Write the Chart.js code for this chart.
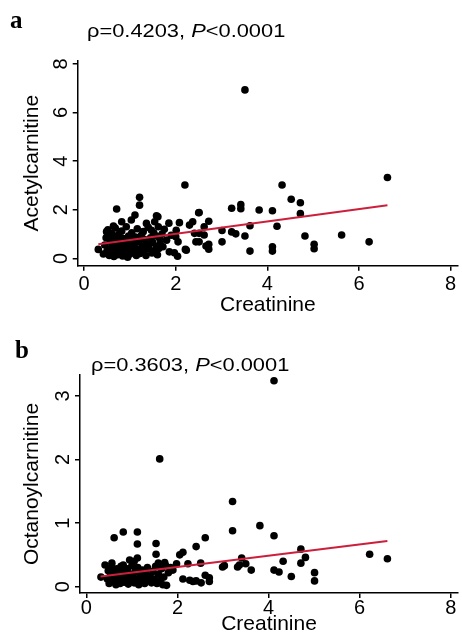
<!DOCTYPE html>
<html>
<head>
<meta charset="utf-8">
<script src="https://cdn.jsdelivr.net/npm/chart.js@4/dist/chart.umd.min.js"></script>
<style>
  html, body { margin: 0; padding: 0; background: #fff; }
  #chartA { position: absolute; left: 0; top: 0; }
  #chartB { position: absolute; left: 0; top: 318px; }
</style>
</head>
<body>
<canvas id="chartA" width="462" height="318"></canvas>
<canvas id="chartB" width="462" height="314"></canvas>
<script>
// panel a : creatinine vs acetylcarnitine
const creatinineA = [
  3.51, 6.62, 4.32, 4.52, 4.72, 4.72, 3.42, 3.42, 3.22, 3.82, 4.11, 2.51, 2.72, 2.62, 2.62, 2.51, 2.72, 2.72,
  3.01, 3.01, 3.22, 3.31, 3.62, 3.51, 3.62, 4.21, 4.11, 4.11, 4.82, 5.02, 5.02, 5.62, 6.22,
  2.20, 2.50, 2.37, 2.30, 2.08, 2.01, 2.00, 2.41, 2.51, 2.05, 2.44, 2.66, 2.21, 2.23, 1.97, 2.04, 1.86, 1.63,
  1.58, 1.65, 1.58, 1.61, 1.54,
  1.21, 1.21, 0.71, 1.11, 1.03, 0.82, 0.64, 0.49, 0.31, 1.36, 1.47, 1.29,
  0.42, 0.45, 0.48, 0.50, 0.52, 0.55, 0.57, 0.58, 0.60, 0.62, 0.63, 0.65, 0.66, 0.68, 0.70, 0.72, 0.73, 0.75,
  0.77, 0.78, 0.80, 0.82, 0.84, 0.85, 0.87, 0.88, 0.90, 0.92, 0.94, 0.95, 0.97, 0.98, 1.00, 1.02, 1.04, 1.05,
  1.08, 1.10, 1.12, 1.14, 1.16, 1.18, 1.20, 1.22, 1.25, 1.27, 1.30, 1.32, 1.35, 1.38, 1.40, 1.42, 1.45, 1.48,
  1.50, 1.52, 1.55, 1.57, 1.60, 1.62, 1.66, 1.70, 1.72, 1.75, 1.80, 1.85, 1.90
];
const acetylcarnitine = [
  6.93, 3.33, 3.02, 2.43, 2.29, 1.84, 2.21, 2.04, 2.06, 1.99, 1.96, 1.89, 1.53, 1.30, 0.96, 0.68, 0.58, 0.38,
  1.15, 0.68, 1.09, 1.01, 1.34, 0.92, 0.30, 1.32, 0.48, 0.30, 0.92, 0.58, 0.40, 0.96, 0.68,
  3.02, 1.88, 1.51, 1.37, 1.47, 1.16, 0.89, 1.03, 1.03, 0.68, 0.68, 0.51, 0.37, 0.34, 0.23, 0.09, 0.27, 0.41,
  0.48, 0.82, 1.75, 1.71, 1.51,
  2.51, 2.19, 2.03, 1.78, 1.58, 1.51, 1.33, 1.10, 0.37, 1.44, 1.16, 1.10,
  0.18, 0.55, 0.85, 0.30, 1.18, 0.12, 0.70, 0.42, 1.02, 0.22, 0.90, 0.08, 0.58, 1.25, 0.35, 0.75, 0.15, 0.98,
  0.48, 0.28, 0.62, 1.12, 0.10, 0.82, 0.40, 0.20, 0.68, 1.30, 0.52, 0.05, 0.92, 0.30, 0.18, 0.72, 1.05, 0.45,
  0.25, 0.60, 0.88, 0.12, 1.22, 0.38, 0.70, 0.20, 0.95, 0.50, 0.30, 0.78, 0.12, 0.58, 1.28, 0.40, 0.85, 0.22,
  0.65, 1.05, 0.32, 0.92, 0.15, 1.30, 0.60, 1.00, 0.48, 1.20, 0.75, 1.45, 0.95
];

// panel b : creatinine vs octanoylcarnitine
const creatinineB = [
  4.12, 1.61, 3.21, 3.21, 3.81, 4.12, 4.71, 4.81, 4.71, 4.32, 4.12, 4.23, 4.50, 5.01, 5.01, 3.62, 3.41, 3.36,
  3.50, 6.22, 6.61, 2.61, 2.41, 2.51, 2.61, 2.70, 2.70, 2.27, 2.41, 2.52, 2.99, 3.03, 3.32, 2.12, 2.05, 1.98,
  2.23, 2.12, 2.34, 1.53, 1.53, 1.58, 1.72, 1.12, 1.12, 1.12, 0.81, 0.61, 0.41, 0.56, 0.81, 0.32, 1.68, 1.76,
  0.46, 0.48, 0.50, 0.53, 0.55, 0.58, 0.60, 0.62, 0.65, 0.67, 0.70, 0.72, 0.74, 0.76, 0.78, 0.80, 0.83, 0.85,
  0.87, 0.90, 0.92, 0.95, 0.97, 1.00, 1.02, 1.05, 1.07, 1.10, 1.13, 1.15, 1.18, 1.20, 1.23, 1.26, 1.28, 1.31,
  1.34, 1.37, 1.40, 1.43, 1.46, 1.49, 1.52, 1.55, 1.58, 1.62, 1.65, 1.70, 1.74, 1.80, 1.85, 1.90, 0.95, 1.05
];
const octanoylcarnitine = [
  3.24, 2.01, 1.34, 0.88, 0.96, 0.80, 0.59, 0.46, 0.37, 0.40, 0.26, 0.23, 0.16, 0.22, 0.09, 0.26, 0.45, 0.34,
  0.36, 0.51, 0.44, 0.77, 0.63, 0.37, 0.18, 0.14, 0.08, 0.10, 0.09, 0.06, 0.31, 0.33, 0.31, 0.54, 0.50, 0.36,
  0.36, 0.12, 0.08, 0.68, 0.51, 0.37, 0.38, 0.86, 0.67, 0.45, 0.86, 0.77, 0.34, 0.37, 0.34, 0.15, 0.03, 0.02,
  0.12, 0.25, 0.05, 0.18, 0.30, 0.08, 0.22, 0.14, 0.03, 0.28, 0.10, 0.20, 0.05, 0.32, 0.15, 0.24, 0.07, 0.18,
  0.12, 0.28, 0.04, 0.20, 0.10, 0.33, 0.15, 0.06, 0.24, 0.12, 0.30, 0.03, 0.18, 0.09, 0.26, 0.14, 0.05, 0.20,
  0.30, 0.10, 0.16, 0.06, 0.24, 0.12, 0.32, 0.05, 0.20, 0.10, 0.28, 0.15, 0.33, 0.22, 0.30, 0.26, 0.42, 0.40
];

// fitted lines, end points
const fitXA = [0.31, 6.62];
const fitYA = [0.58, 2.19];
const fitXB = [0.31, 6.61];
const fitYB = [0.16, 0.72];

const xTicks = [0, 2, 4, 6, 8];
const yTicksA = [0, 2, 4, 6, 8];
const yTicksB = [0, 1, 2, 3];

const FONT = '"Liberation Sans", Arial, Helvetica, sans-serif';

function zip(xs, ys) {
  return xs.map((x, i) => ({ x: x, y: ys[i] }));
}

function header(letter, letterX, letterY, rho, textX, textY) {
  return {
    id: 'header',
    afterDraw(chart) {
      const ctx = chart.ctx;
      ctx.save();
      ctx.fillStyle = '#000';
      ctx.textBaseline = 'alphabetic';
      ctx.textAlign = 'left';
      ctx.font = 'bold 25px "Liberation Serif", "Times New Roman", serif';
      ctx.fillText(letter, letterX, letterY);
      ctx.translate(textX, textY);
      ctx.scale(1.15, 1);
      const s1 = '\u03c1=' + rho + ', ';
      ctx.font = '19px ' + FONT;
      ctx.fillText(s1, 0, 0);
      let w = ctx.measureText(s1).width;
      ctx.font = 'italic 19px ' + FONT;
      ctx.fillText('P', w, 0);
      w += ctx.measureText('P').width;
      ctx.font = '19px ' + FONT;
      ctx.fillText('<0.0001', w, 0);
      ctx.restore();
    }
  };
}

function makePanel(id, p) {
  const axisLine = { color: '#000', width: 1.5 };
  const grid = { drawOnChartArea: false, drawTicks: true, tickLength: 5, color: '#000', lineWidth: 1.5 };
  return new Chart(document.getElementById(id), {
    type: 'scatter',
    data: {
      datasets: [
        {
          data: zip(p.fitX, p.fitY),
          showLine: true,
          borderColor: '#cc1f3c',
          borderWidth: 2,
          pointRadius: 0,
          order: 0
        },
        {
          data: zip(p.xs, p.ys),
          backgroundColor: '#000',
          borderWidth: 0,
          pointRadius: 3.8,
          order: 1
        }
      ]
    },
    options: {
      responsive: false,
      animation: false,
      layout: { padding: { top: p.top, left: 0, right: 2, bottom: 0 } },
      plugins: { legend: { display: false }, tooltip: { enabled: false } },
      scales: {
        x: {
          type: 'linear',
          min: -0.14,
          max: 8.16,
          afterBuildTicks: s => { s.ticks = xTicks.map(v => ({ value: v })); },
          afterFit: s => { s.height = p.xHeight; },
          border: axisLine,
          grid: grid,
          ticks: { maxRotation: 0, padding: p.xTickPad, color: '#000', font: { size: 20, family: FONT, lineHeight: 1 } },
          title: { display: true, text: 'Creatinine', color: '#000', font: { size: 21, family: FONT, lineHeight: p.xTitleLH }, padding: { top: 0, bottom: p.xTitlePad } }
        },
        y: {
          min: p.yMin,
          max: p.yMax,
          afterBuildTicks: s => { s.ticks = p.yTicks.map(v => ({ value: v })); },
          afterFit: s => { s.width = p.yWidth; },
          border: axisLine,
          grid: grid,
          ticks: { minRotation: 90, maxRotation: 90, crossAlign: 'center', padding: 6, color: '#000', font: { size: 20, family: FONT } },
          title: { display: true, text: p.yTitle, color: '#000', font: { size: 21, family: FONT, lineHeight: 1 }, padding: { top: 22, bottom: 0 } }
        }
      }
    },
    plugins: [header(p.letter, p.letterX, p.letterY, p.rho, p.textX, p.textY)]
  });
}

makePanel('chartA', {
  xs: creatinineA, ys: acetylcarnitine, fitX: fitXA, fitY: fitYA,
  yTicks: yTicksA, yMin: -0.3, yMax: 8.13, yTitle: 'Acetylcarnitine',
  top: 60.7, yWidth: 77.7, xHeight: 52.3, xTickPad: 4, xTitleLH: 1, xTitlePad: 2,
  letter: 'a', letterX: 10, letterY: 28, rho: '0.4203', textX: 87, textY: 37
});

makePanel('chartB', {
  xs: creatinineB, ys: octanoylcarnitine, fitX: fitXB, fitY: fitYB,
  yTicks: yTicksB, yMin: -0.1, yMax: 3.33, yTitle: 'Octanoylcarnitine',
  top: 57, yWidth: 80, xHeight: 39, xTickPad: 0, xTitleLH: 0.75, xTitlePad: 0,
  letter: 'b', letterX: 15, letterY: 40, rho: '0.3603', textX: 91, textY: 53
});
</script>
</body>
</html>
